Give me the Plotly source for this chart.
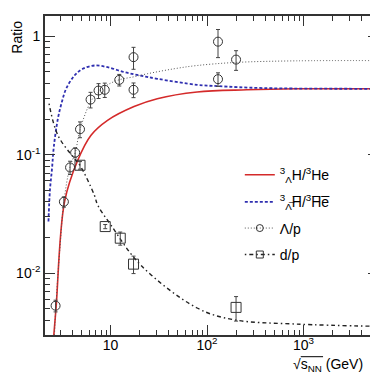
import plotly.graph_objects as go

# --- data ---
# Lambda/p measurements
lp_x = [2.69, 3.28, 3.8, 4.29, 4.82, 6.2, 7.5, 8.7, 12.3, 17.3, 17.3, 130, 130, 200]
lp_y = [0.0053, 0.040, 0.078, 0.104, 0.164, 0.292, 0.348, 0.353, 0.428, 0.666, 0.353, 0.90, 0.434, 0.635]
lp_err = [0.0006, 0.004, 0.010, 0.010, 0.025, 0.044, 0.05, 0.049, 0.048, 0.14, 0.05, 0.24, 0.057, 0.12]

# d/p measurements
dp_x = [4.82, 8.8, 12.6, 17.3, 200]
dp_y = [0.0814, 0.0247, 0.0197, 0.0119, 0.00513]
dp_err = [0.006, 0.001, 0.0025, 0.002, 0.0012]

# model curves
hyp_x = [2.58, 2.73, 3.33, 4.57, 6.27, 9.3, 17.5, 30.5, 79, 258, 847, 5250]
hyp_y = [0.0030, 0.00527, 0.040, 0.0897, 0.146, 0.195, 0.255, 0.297, 0.338, 0.353, 0.360, 0.360]

ahyp_x = [2.27, 2.35, 2.47, 2.58, 2.84, 3.13, 3.46, 4.22, 5.14, 6.79, 9.31, 13.8, 20.4, 30.5, 78.9, 130, 385, 5270]
ahyp_y = [0.0273, 0.0499, 0.0764, 0.117, 0.201, 0.280, 0.360, 0.466, 0.531, 0.566, 0.548, 0.498, 0.466, 0.437, 0.389, 0.379, 0.365, 0.360]

lpc_x = [2.62, 2.71, 2.98, 3.28, 3.78, 4.33, 4.79, 6.22, 7.52, 9.31, 12.3, 17.3, 24.0, 45.4, 78.9, 199, 847, 5270]
lpc_y = [0.0030, 0.0053, 0.0162, 0.040, 0.078, 0.106, 0.160, 0.280, 0.340, 0.389, 0.429, 0.454, 0.482, 0.531, 0.566, 0.601, 0.620, 0.623]

dpc_x = [2.30, 2.84, 4.22, 4.82, 6.79, 7.35, 10.07, 20.5, 78.9, 188, 847, 5900]
dpc_y = [0.27, 0.146, 0.0927, 0.0812, 0.0455, 0.0375, 0.0255, 0.0117, 0.00507, 0.00404, 0.00371, 0.00355]

x_tickvals = [10, 100, 1000]
x_ticktext = ["10", "10<sup>2</sup>", "10<sup>3</sup>"]
y_tickvals = [0.01, 0.1, 1]
y_ticktext = ["10<sup>-2</sup>", "10<sup>-1</sup>", "1"]

names = ["<sup>3</sup><sub>Λ</sub>H/<sup>3</sup>He",
         "<sup>3</sup><sub>Λ̅</sub>H̅/<sup>3</sup>H̅e̅",
         "Λ/p",
         "d/p"]

FONT = "Liberation Sans, Arial, sans-serif"
RED = "#d42a2a"
BLUE = "#2f2fb0"

fig = go.Figure()

fig.add_trace(go.Scatter(x=hyp_x, y=hyp_y, mode="lines", line=dict(color=RED, width=1.6, shape="spline"),
                         name=names[0], legend="legend"))
fig.add_trace(go.Scatter(x=ahyp_x, y=ahyp_y, mode="lines", line=dict(color=BLUE, width=1.8, dash="3px,2px", shape="spline"),
                         name=names[1], legend="legend2"))
fig.add_trace(go.Scatter(x=lpc_x, y=lpc_y, mode="lines", line=dict(color="#555555", width=1, dash="1px,2px", shape="spline"),
                         showlegend=False))
fig.add_trace(go.Scatter(x=dpc_x, y=dpc_y, mode="lines", line=dict(color="#222222", width=1.4, dash="1.5px,3px,4px,3px", shape="spline"),
                         showlegend=False))

fig.add_trace(go.Scatter(x=lp_x, y=lp_y, mode="markers",
                         marker=dict(symbol="circle-open", size=9, color="#333333", line=dict(width=1)),
                         error_y=dict(type="data", array=lp_err, color="#444444", thickness=1, width=2),
                         showlegend=False))
fig.add_trace(go.Scatter(x=dp_x, y=dp_y, mode="markers",
                         marker=dict(symbol="square-open", size=10, color="#333333", line=dict(width=1)),
                         error_y=dict(type="data", array=dp_err, color="#444444", thickness=1, width=2),
                         showlegend=False))

# legend-only entries combining curve + marker
fig.add_trace(go.Scatter(x=[None], y=[None], mode="lines+markers", name=names[2], legend="legend3",
                         line=dict(color="#555555", width=1, dash="1px,2px"),
                         marker=dict(symbol="circle-open", size=7, color="#333333")))
fig.add_trace(go.Scatter(x=[None], y=[None], mode="lines+markers", name=names[3], legend="legend4",
                         line=dict(color="#222222", width=1.4, dash="1.5px,3px,4px,3px"),
                         marker=dict(symbol="square-open", size=7, color="#333333")))

minor_x = [v * m for m in (1, 10, 100, 1000) for v in range(2, 10) if 2 <= v * m <= 6000]
minor_y = [v * m for m in (0.001, 0.01, 0.1, 1) for v in range(2, 10) if 0.003 <= v * m <= 1.5]

axis_common = dict(type="log", showgrid=False, zeroline=False, showline=True, linecolor="#333333",
                   linewidth=1.6, mirror="ticks", ticks="inside", ticklen=10, tickwidth=1,
                   tickcolor="#333333", tickfont=dict(family=FONT, size=14, color="black"))

fig.update_xaxes(**axis_common, range=[0.32, 3.773], tickmode="array", tickvals=x_tickvals,
                 ticktext=x_ticktext, ticklabelstandoff=-4,
                 minor=dict(tickmode="array", tickvals=minor_x, ticks="inside", ticklen=5,
                            tickcolor="#333333", showgrid=False))
fig.update_yaxes(**axis_common, range=[-2.523, 0.171], tickmode="array", tickvals=y_tickvals,
                 ticktext=y_ticktext,
                 minor=dict(tickmode="array", tickvals=minor_y, ticks="inside", ticklen=5,
                            tickcolor="#333333", showgrid=False))

leg = dict(x=0.585, xanchor="left", yanchor="middle", bgcolor="rgba(0,0,0,0)",
           font=dict(family=FONT, size=14), itemwidth=30)

fig.update_layout(
    width=378, height=375,
    margin=dict(l=37, r=6, t=7, b=48),
    paper_bgcolor="white", plot_bgcolor="white",
    font=dict(family=FONT, size=14, color="black"),
    legend=dict(**leg, y=0.501),
    legend2=dict(**leg, y=0.416),
    legend3=dict(**leg, y=0.334),
    legend4=dict(**leg, y=0.251),
    annotations=[
        dict(text="Ratio", xref="paper", yref="paper", x=-0.084, y=0.99, xanchor="center", yanchor="top",
             textangle=-90, showarrow=False, font=dict(family=FONT, size=14)),
        dict(text="√s<sub>NN</sub> (GeV)", xref="paper", yref="paper", x=0.74, y=-0.128, xanchor="left",
             yanchor="bottom", showarrow=False, font=dict(family=FONT, size=14)),
    ],
    shapes=[
        dict(type="line", xref="paper", yref="paper", x0=0.768, x1=0.835, y0=-0.068, y1=-0.068,
             line=dict(color="black", width=1)),
    ],
)

fig.write_html("out.html")
